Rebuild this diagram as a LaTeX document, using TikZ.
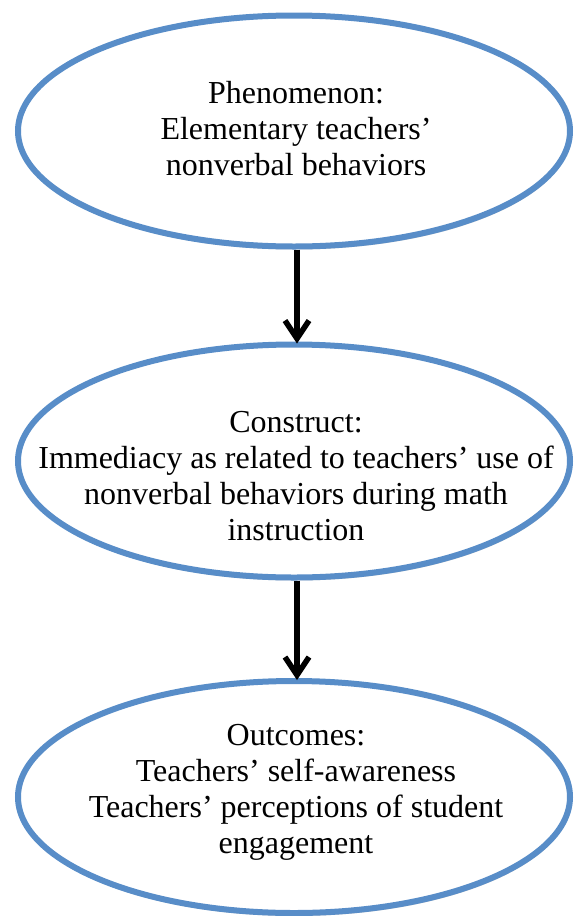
\documentclass[tikz,border=0pt]{standalone}
\usepackage{fontspec}
\setmainfont{Liberation Serif}
\usetikzlibrary{shapes.geometric,arrows.meta,shadows}
\definecolor{ovalblue}{RGB}{88,141,200}
\tikzset{
  oval/.style={ellipse, draw=ovalblue, line width=6pt, fill=white, inner sep=0pt,
    minimum width=552pt, minimum height=232pt,
    drop shadow={shadow xshift=1pt, shadow yshift=-3pt, fill=black, opacity=0.18}},
  caption/.style={align=center, inner sep=0pt,
    font=\fontsize{32}{36}\selectfont},
  flow/.style={draw=black, line width=5.5pt,
    -{Straight Barb[length=18pt, width=24pt]}}
}
\begin{document}
\begin{tikzpicture}[x=1pt, y=-1pt]
  \useasboundingbox (0,0) rectangle (574,916);
  % three stages, top to bottom
  \node[oval, minimum height=231pt] (e1) at (294,131) {};
  \node[oval, minimum height=233pt] (e2) at (294,461) {};
  \node[oval] (e3) at (294,797) {};
  \node[caption] (t1) at (296,129) {Phenomenon:\\Elementary teachers’\\nonverbal behaviors};
  \node[caption] (t2) at (296,476) {Construct:\\Immediacy as related to teachers’ use of\\nonverbal behaviors during math\\instruction};
  \node[caption] (t3) at (296,792) {Outcomes:\\Teachers’ self-awareness\\Teachers’ perceptions of student\\engagement};
  % connectors between stages
  \draw[flow] ([xshift=3pt]e1.south) -- ([xshift=3pt,yshift=-2pt]e2.north);
  \draw[flow] ([xshift=3pt]e2.south) -- ([xshift=3pt,yshift=-2pt]e3.north);
\end{tikzpicture}
\end{document}
